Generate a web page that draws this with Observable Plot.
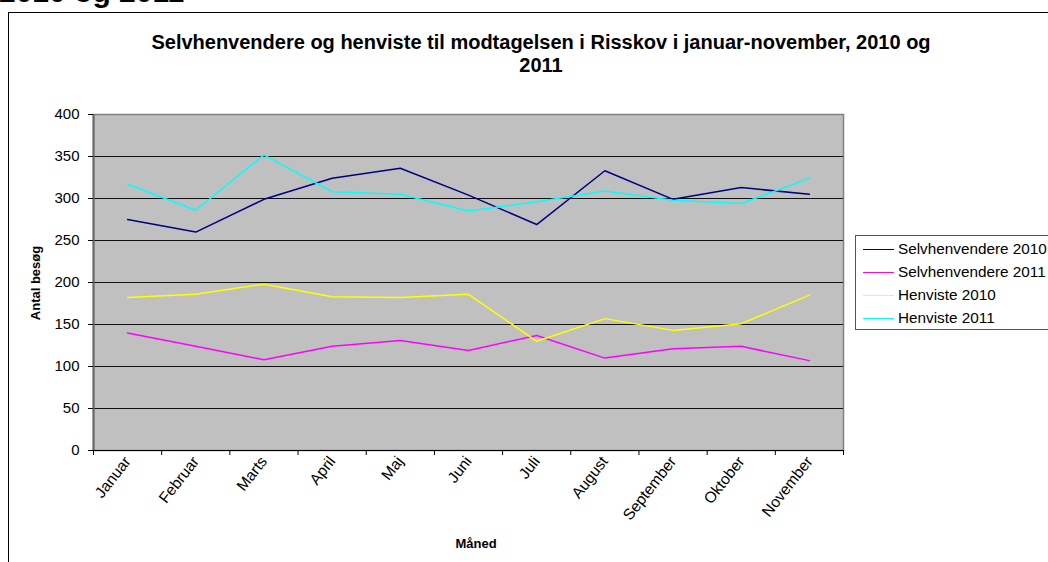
<!DOCTYPE html>
<html>
<head>
<meta charset="utf-8">
<script src="https://cdn.jsdelivr.net/npm/d3@7"></script>
<script src="https://cdn.jsdelivr.net/npm/@observablehq/plot@0.6"></script>
<style>
  html, body { margin: 0; padding: 0; background: #fff; overflow: hidden; }
  body { width: 1048px; height: 562px; position: relative; font-family: "Liberation Sans", Arial, sans-serif; }
  #heading { position: absolute; left: -1px; top: -23px; font-size: 30px; font-weight: bold; color: #000; white-space: nowrap; line-height: 30px; }
  #frame { position: absolute; left: 8px; top: 12px; width: 1100px; height: 600px; border: 1.5px solid #000; box-sizing: border-box; }
  #title { position: absolute; left: 0; width: 1082px; top: 31px; text-align: center; font-size: 20px; font-weight: bold; line-height: 23px; }
  #chart { position: absolute; left: 0; top: 0; }
  #ylabel { position: absolute; left: 35px; top: 283px; transform: translate(-50%, -50%) rotate(-90deg); font-size: 13px; font-weight: bold; white-space: nowrap; }
  #xlabel { position: absolute; left: 476px; top: 543px; transform: translate(-50%, -50%); font-size: 13px; font-weight: bold; white-space: nowrap; }
  #legend { position: absolute; left: 855px; top: 235px; width: 220px; height: 95px; border: 1px solid #555; background: #fff; box-sizing: border-box; }
  .item { position: absolute; left: 7px; height: 20px; display: flex; align-items: center; font-size: 15.3px; white-space: nowrap; }
  .swatch { width: 31px; height: 0; border-top: 1.5px solid; margin-right: 4px; }
</style>
</head>
<body>
<div id="heading">2010 og 2011</div>
<div id="frame"></div>
<div id="chart"></div>
<div id="title">Selvhenvendere og henviste til modtagelsen i Risskov i januar-november, 2010 og<br>2011</div>
<div id="ylabel">Antal besøg</div>
<div id="xlabel">Måned</div>
<div id="legend"></div>
<script>
const months = ["Januar", "Februar", "Marts", "April", "Maj", "Juni", "Juli", "August", "September", "Oktober", "November"];
const seriesNames = ["Selvhenvendere 2010", "Selvhenvendere 2011", "Henviste 2010", "Henviste 2011"];
const seriesColors = ["#000080", "#ff00ff", "#ffff00", "#00ffff"];
const selvhenvendere2010 = [275, 260, 299, 324, 336, 304, 269, 333, 299, 313, 305];
const selvhenvendere2011 = [140, 124, 108, 124, 131, 119, 137, 110, 121, 124, 107];
const henviste2010 = [182, 186, 198, 183, 182, 186, 130, 157, 143, 151, 185];
const henviste2011 = [317, 286, 352, 308, 305, 285, 296, 309, 298, 294, 324];
const yTicks = [0, 50, 100, 150, 200, 250, 300, 350, 400];

const seriesValues = [selvhenvendere2010, selvhenvendere2011, henviste2010, henviste2011];
const data = [];
seriesValues.forEach((vals, s) => vals.forEach((v, i) => data.push({series: seriesNames[s], month: months[i], idx: i, value: v})));

const chart = Plot.plot({
  width: 1048,
  height: 562,
  marginLeft: 93,
  marginRight: 205,
  marginTop: 114,
  marginBottom: 112,
  style: {fontFamily: "Liberation Sans, Arial, sans-serif", background: "transparent", color: "#000"},
  x: {type: "linear", domain: [0, months.length]},
  y: {domain: [0, 400]},
  color: {domain: seriesNames, range: seriesColors},
  marks: [
    Plot.frame({fill: "#c0c0c0", stroke: "#808080", strokeWidth: 1.5}),
    Plot.ruleY(yTicks.filter(d => d > 0 && d < 400), {stroke: "#111", strokeWidth: 1}),
    Plot.ruleX([0], {stroke: "#666", strokeWidth: 2}),
    Plot.line(data, {x: d => d.idx + 0.5, y: "value", z: "series", stroke: "series", strokeWidth: 1.5}),
    Plot.ruleY([0], {stroke: "#000", strokeWidth: 1.2}),
    Plot.axisY({ticks: yTicks, tickSize: 5, tickPadding: 9, fontSize: 15, label: null, stroke: "#000"}),
    Plot.axisX({ticks: d3.range(months.length + 1), tickSize: 5, tickFormat: () => "", label: null}),
    Plot.axisX({ticks: months.map((_, i) => i + 0.5), tickSize: 0, tickPadding: 8, tickRotate: -52, fontSize: 15.5,
                tickFormat: d => months[Math.floor(d)], label: null})
  ]
});
document.getElementById("chart").appendChild(chart);

const legend = d3.select("#legend");
seriesNames.forEach((name, i) => {
  const item = legend.append("div").attr("class", "item").style("top", (3 + i * 23) + "px");
  item.append("div").attr("class", "swatch").style("border-top-color", seriesColors[i]);
  item.append("span").text(name);
});
</script>
</body>
</html>
